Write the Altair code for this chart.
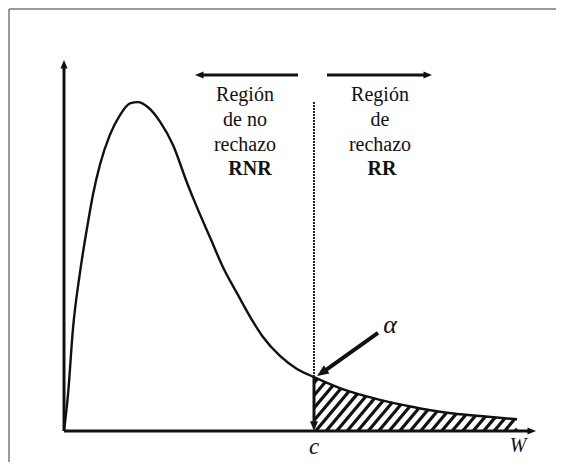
import numpy as np
import pandas as pd
import altair as alt

# ---- density curve (W, f(W)) ----
W_PTS = [0, 0.16, 0.36, 0.64, 0.92, 1.16, 1.44, 1.84, 2.24, 2.64, 2.96, 3.36, 3.84,
         4.36, 4.92, 5.32, 5.84, 6.36, 6.92, 7.44, 7.96, 8.64, 9.32, 10.0, 11.32,
         12.64, 13.96, 15.32, 16.64, 18.12]
F_PTS = [0, 0.028, 0.079, 0.122, 0.156, 0.182, 0.205, 0.228, 0.243, 0.252, 0.253,
         0.249, 0.238, 0.220, 0.191, 0.172, 0.149, 0.126, 0.106, 0.088, 0.0723, 0.0577,
         0.0477, 0.0415, 0.031, 0.024, 0.0185, 0.014, 0.0115, 0.009]

C_VALUE = 10.0          # critical value c
W_END = 18.12           # end of the drawn tail
X_AXIS_END = 18.88
Y_AXIS_END = 0.2854

LEFT_LINES = ["Región", "de no", "rechazo", "RNR"]
RIGHT_LINES = ["Región", "de", "rechazo", "RR"]
LINE_Y = [0.2538, 0.2346, 0.2154, 0.1969]
LEFT_X = [7.24, 7.24, 7.24, 7.44]
RIGHT_X = [12.64, 12.64, 12.64, 12.72]

ARROW_Y = 0.2738
LEFT_ARROW = [9.36, 5.24]     # from, tip
RIGHT_ARROW = [10.52, 14.72]  # from, tip
ALPHA_ARROW = [(12.56, 0.0754), (10.12, 0.0423)]  # tail, tip

# ---- layout helpers ----
PX_W = 25.0     # pixels per W unit
PX_F = 1300.0   # pixels per density unit
X_DOMAIN = [-2.24, 19.68]
Y_DOMAIN = [-31 / 1300, 423 / 1300]
SERIF = "Liberation Serif"


def dx(px):
    return px / PX_W


def dy(px):
    return px / PX_F


xs = alt.Scale(domain=X_DOMAIN, nice=False, zero=False)
ys = alt.Scale(domain=Y_DOMAIN, nice=False, zero=False)


def X():
    return alt.X("w:Q", scale=xs, axis=None)


def Y():
    return alt.Y("f:Q", scale=ys, axis=None)


f_c = float(np.interp(C_VALUE, W_PTS, F_PTS))


def seg_frame(pairs):
    rows = []
    for i, (a, b) in enumerate(pairs):
        rows.append({"seg": i, "o": 0, "w": a[0], "f": a[1]})
        rows.append({"seg": i, "o": 1, "w": b[0], "f": b[1]})
    return pd.DataFrame(rows)


# ---- hatching under the tail ----
k = dy(1.19) / dx(1.0)
fine_w = np.linspace(C_VALUE, W_END, 3000)
fine_f = np.interp(fine_w, W_PTS, F_PTS)
start = C_VALUE - f_c / k
hatch_pairs = []
for x0 in np.arange(start + 0.2, W_END, 0.42):
    ws = max(C_VALUE, x0)
    fs = k * (ws - x0)
    diff = fine_f - k * (fine_w - x0)
    idx = np.where((fine_w >= ws) & (diff <= 0))[0]
    we = fine_w[idx[0]] if len(idx) else W_END
    hatch_pairs.append(((ws, fs), (we, k * (we - x0))))
hatch_df = seg_frame(hatch_pairs)

curve_df = pd.DataFrame({"w": W_PTS, "f": F_PTS})

shaft_df = seg_frame([
    ((0, 0), (X_AXIS_END - dx(6), 0)),
    ((0, 0), (0, Y_AXIS_END - dy(6))),
    ((C_VALUE, f_c), (C_VALUE, dy(8))),
    ((LEFT_ARROW[0], ARROW_Y), (LEFT_ARROW[1] + dx(6), ARROW_Y)),
    ((RIGHT_ARROW[0], ARROW_Y), (RIGHT_ARROW[1] - dx(6), ARROW_Y)),
])
alpha_shaft_df = seg_frame([
    (ALPHA_ARROW[0], (ALPHA_ARROW[1][0] + dx(8), ALPHA_ARROW[1][1] + dy(5.5))),
])
border_df = seg_frame([
    ((-2.2, Y_DOMAIN[0]), (-2.2, 0.3246)),
    ((-2.2, 0.3246), (X_DOMAIN[1], 0.3246)),
])
dotted_df = seg_frame([((C_VALUE, f_c), (C_VALUE, 0.253))])

heads = pd.DataFrame([
    {"w": X_AXIS_END, "f": 0, "angle": 90, "size": 200},
    {"w": 0, "f": Y_AXIS_END, "angle": 0, "size": 200},
    {"w": C_VALUE, "f": 0, "angle": 180, "size": 260},
    {"w": LEFT_ARROW[1], "f": ARROW_Y, "angle": 270, "size": 200},
    {"w": RIGHT_ARROW[1], "f": ARROW_Y, "angle": 90, "size": 200},
    {"w": ALPHA_ARROW[1][0], "f": ALPHA_ARROW[1][1], "angle": 235.5, "size": 380},
])
ARROW_PATH = "M0,0L-0.5,1.2L0.5,1.2Z"

norm_df = pd.DataFrame({"w": LEFT_X[:3] + RIGHT_X[:3], "f": LINE_Y[:3] * 2,
                        "t": LEFT_LINES[:3] + RIGHT_LINES[:3]})
bold_df = pd.DataFrame({"w": [LEFT_X[3], RIGHT_X[3]], "f": [LINE_Y[3]] * 2,
                        "t": [LEFT_LINES[3], RIGHT_LINES[3]]})
alpha_df = pd.DataFrame([{"w": 13.04, "f": 0.0754, "t": "\u03b1"}])
c_df = pd.DataFrame([{"w": C_VALUE, "f": -0.0180, "t": "c"}])
w_df = pd.DataFrame([{"w": 18.16, "f": -0.0162, "t": "W"}])

INK = "#111111"


def seg_layer(df, **kw):
    return alt.Chart(df).mark_line(**kw).encode(
        x=X(), y=Y(), detail="seg:N", order=alt.Order("o:Q"))


border = seg_layer(border_df, color="#777777", strokeWidth=1.5)
hatch = seg_layer(hatch_df, color=INK, strokeWidth=3.2)
shaft = seg_layer(shaft_df, color=INK, strokeWidth=3)
alpha_shaft = seg_layer(alpha_shaft_df, color=INK, strokeWidth=4)
dotted = seg_layer(dotted_df, color="#222222", strokeWidth=2, strokeDash=[2, 1])

curve = alt.Chart(curve_df).mark_line(color=INK, strokeWidth=2.4, interpolate="monotone").encode(
    x=X(), y=Y())

head = alt.Chart(heads).mark_point(shape=ARROW_PATH, filled=True, color=INK, opacity=1).encode(
    x=X(), y=Y(),
    angle=alt.Angle("angle:Q", scale=None),
    size=alt.Size("size:Q", scale=None))


def txt(df, **kw):
    return alt.Chart(df).mark_text(color=INK, align="center", baseline="alphabetic", **kw).encode(
        x=X(), y=Y(), text="t:N")


txt_norm = txt(norm_df, font=SERIF, fontSize=20)
txt_bold = txt(bold_df, font=SERIF, fontSize=20, fontWeight="bold")
alpha_txt = txt(alpha_df, font=SERIF, fontSize=26, fontStyle="italic")
c_txt = txt(c_df, font=SERIF, fontSize=23, fontStyle="italic")
w_txt = txt(w_df, font=SERIF, fontSize=20, fontStyle="italic")

chart = alt.layer(border, hatch, curve, dotted, shaft, alpha_shaft, head,
                  txt_norm, txt_bold, alpha_txt, c_txt, w_txt).properties(
    width=548, height=454, padding=0,
    autosize=alt.AutoSizeParams(type="none"),
).configure_view(stroke=None)

chart.save("out.html", embed_options={"renderer": "svg", "actions": False})
